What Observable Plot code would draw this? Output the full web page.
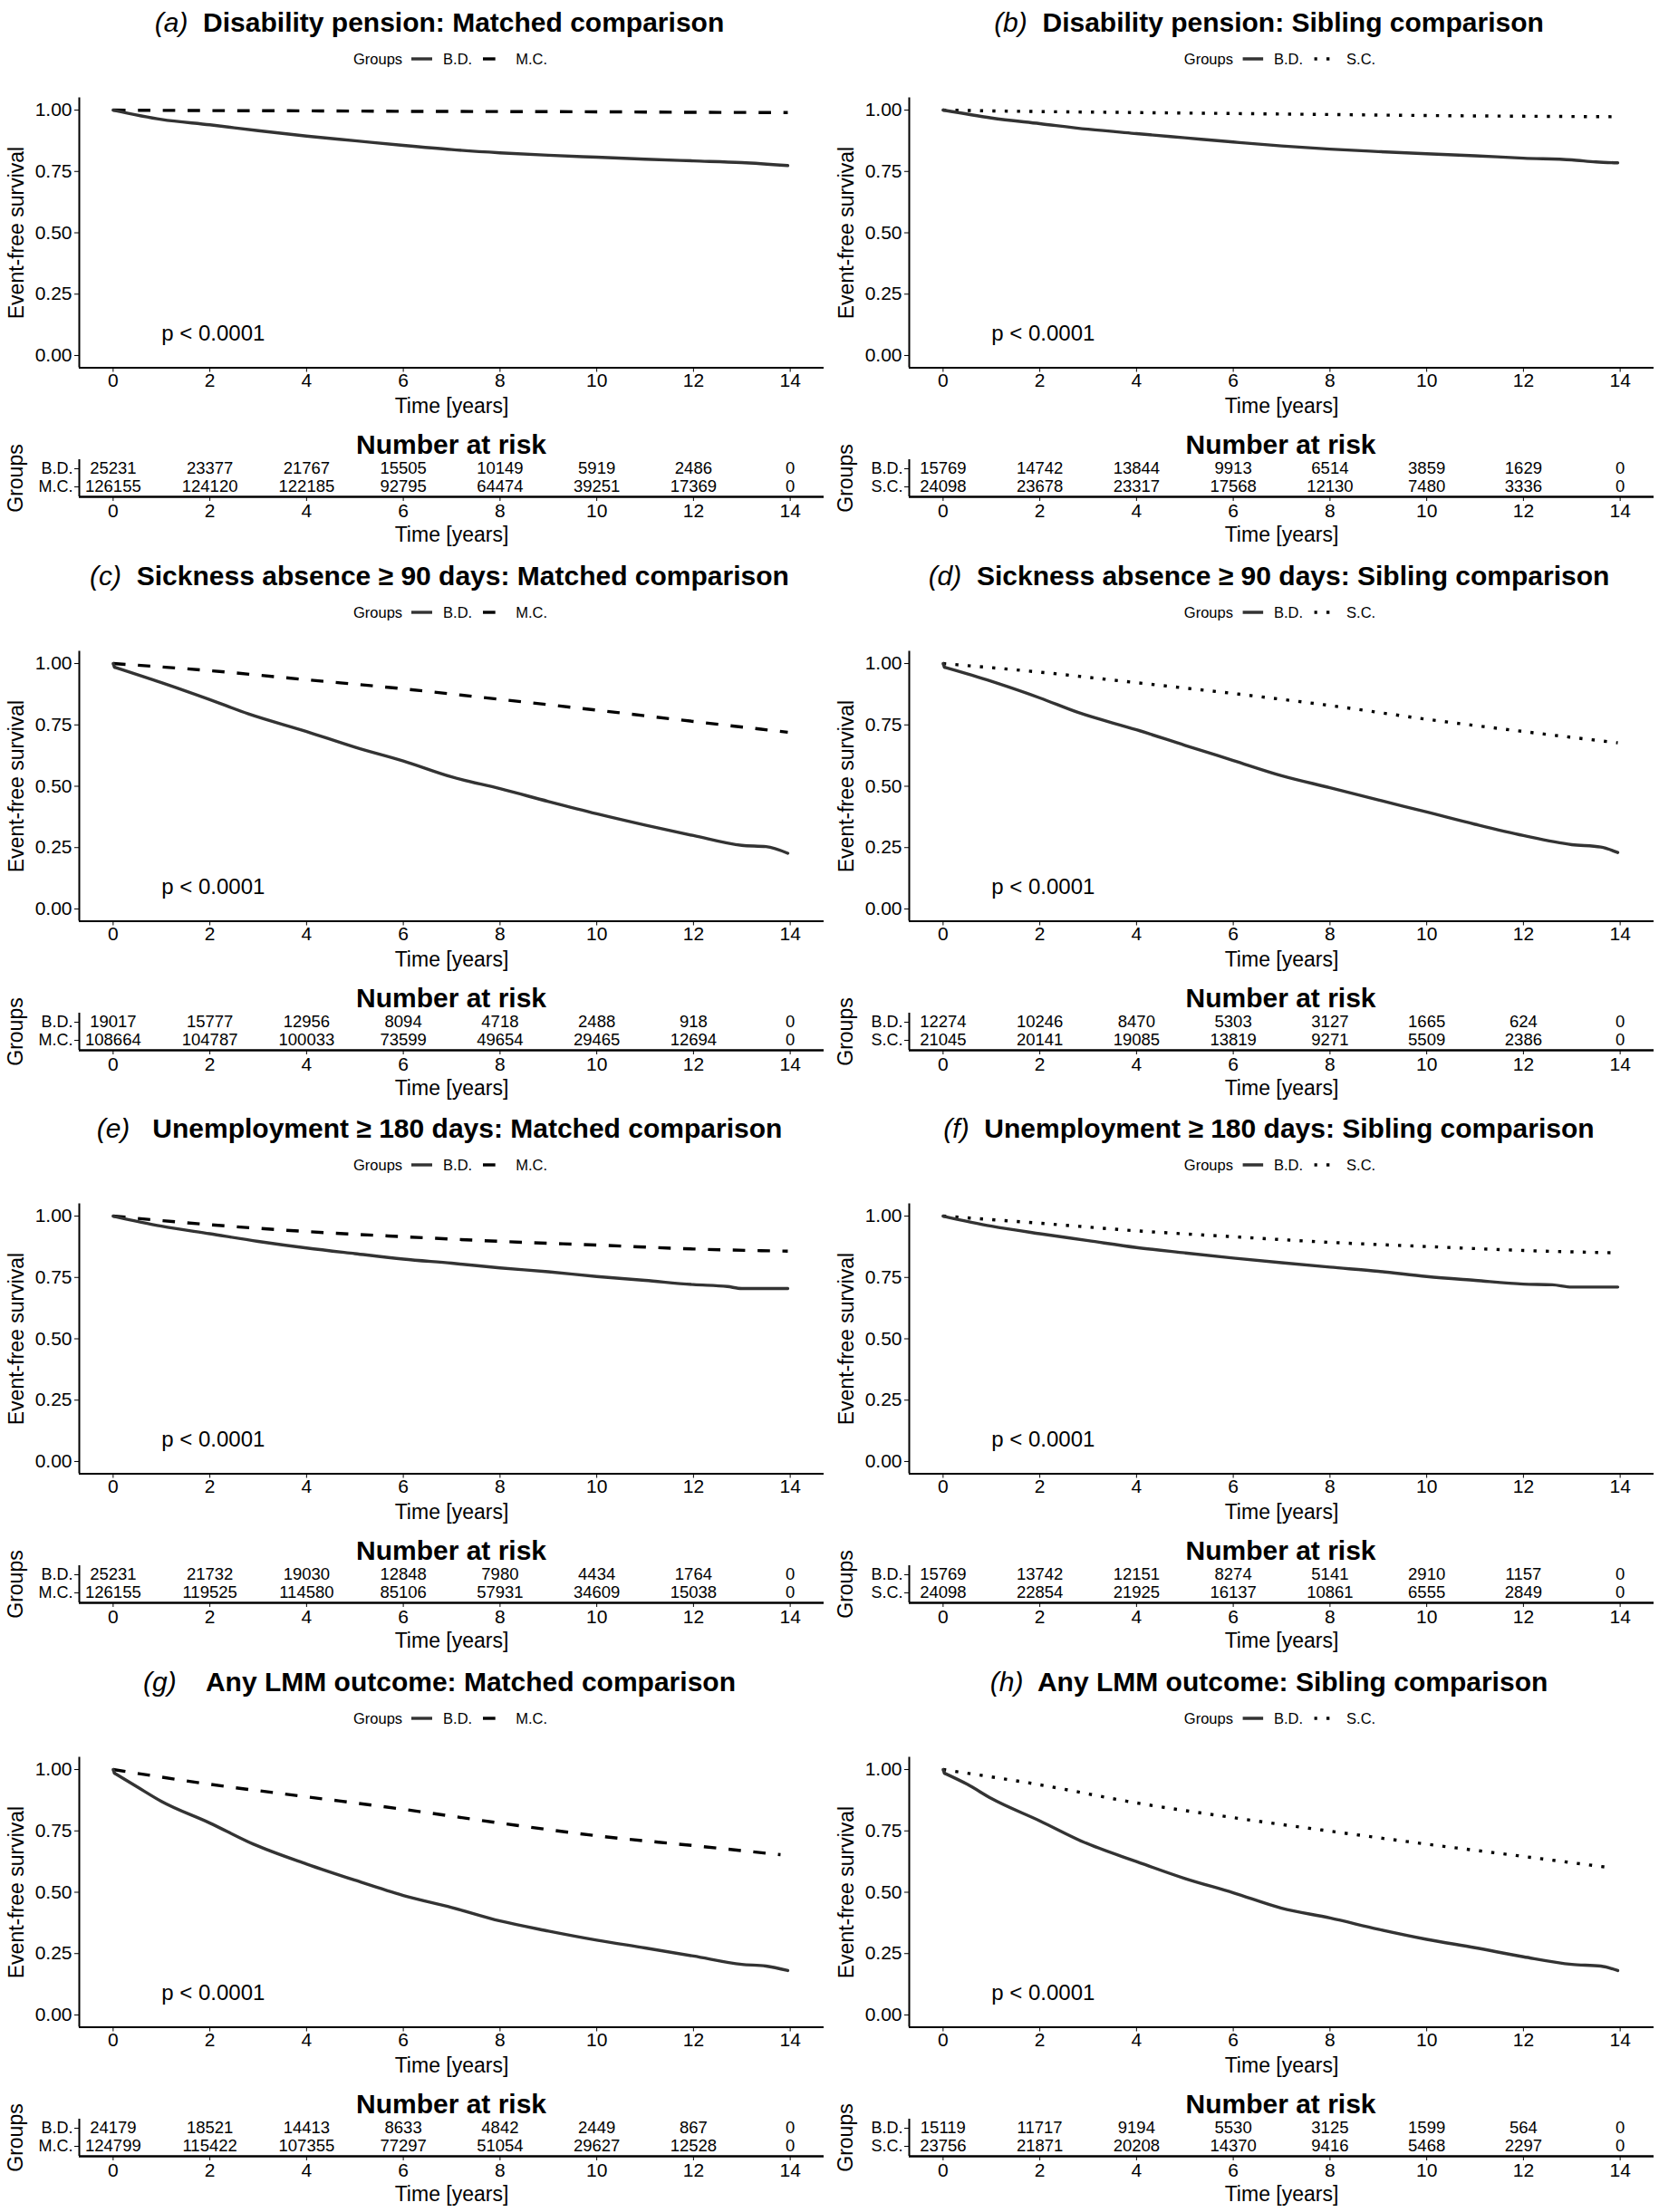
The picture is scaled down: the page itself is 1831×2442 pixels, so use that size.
<!DOCTYPE html>
<html><head><meta charset="utf-8">
<script src="https://cdn.jsdelivr.net/npm/d3@7"></script>
<script src="https://cdn.jsdelivr.net/npm/@observablehq/plot@0.6"></script>
<style>
body{margin:0;background:#fff;font-family:"Liberation Sans",Arial,Helvetica,sans-serif;color:#000;}
#page{position:relative;width:1831px;height:2442px;overflow:hidden;background:#fff;}
.cell{position:absolute;width:915px;height:610px;}
.title{position:absolute;top:7px;left:485px;transform:translateX(-50%);white-space:pre;font-size:30px;font-weight:bold;line-height:36px;}
.title i{font-weight:normal;}
.legend{position:absolute;top:54px;left:497px;transform:translateX(-50%);display:flex;align-items:center;font-size:16.5px;line-height:22px;white-space:nowrap;}
.legend svg{display:block;}
.nar{position:absolute;top:476px;left:498px;transform:translateX(-50%);font-size:30px;font-weight:bold;line-height:30px;white-space:nowrap;}
.main,.risk{position:absolute;left:0;}
.main{top:95px;} .risk{top:501px;}
g[aria-label="x-axis label"], g[aria-label="y-axis label"]{font-size:23px;}
</style></head><body><div id="page"></div>
<script>
// ---------- data ----------
const panelLetters = ["a","b","c","d","e","f","g","h"];
const panelTitles = [
  "Disability pension: Matched comparison",
  "Disability pension: Sibling comparison",
  "Sickness absence \u2265 90 days: Matched comparison",
  "Sickness absence \u2265 90 days: Sibling comparison",
  "Unemployment \u2265 180 days: Matched comparison",
  "Unemployment \u2265 180 days: Sibling comparison",
  "Any LMM outcome: Matched comparison",
  "Any LMM outcome: Sibling comparison"
];
const titleGaps = ["  ","  ","  ","  ","   ","  ","    ","  "];
const groupBD = "B.D.";
const controlNames = ["M.C.","S.C.","M.C.","S.C.","M.C.","S.C.","M.C.","S.C."];
const pvalText = "p < 0.0001";
const xTicks = [0,2,4,6,8,10,12,14];
const yTicks = [0,0.25,0.5,0.75,1];
const riskTimes = [0,2,4,6,8,10,12,14];

// survival curves (time in years, event-free survival)
const aBD_t = [0,1,2,3,4,5,6,7,8,9,10,11,12,13,13.95];
const aBD_s = [1,0.962,0.94,0.916,0.894,0.875,0.856,0.839,0.826,0.816,0.808,0.800,0.793,0.786,0.774];
const aMC_t = [0,2,4,6,8,10,12,13.95];
const aMC_s = [1,0.998,0.997,0.995,0.994,0.993,0.991,0.990];

const bBD_t = [0,1,2,3,4,5,6,7,8,9,10,11,12,13,13.5,13.95];
const bBD_s = [1,0.968,0.945,0.922,0.904,0.887,0.870,0.854,0.841,0.831,0.822,0.814,0.804,0.797,0.789,0.785];
const bSC_t = [0,2,4,6,8,10,12,13.95];
const bSC_s = [1,0.994,0.99,0.986,0.982,0.978,0.975,0.973];

const cBD_t = [0,0.03,1,2,2.8,4,5,6,7,8,9,10,11,12,13,13.5,13.95];
const cBD_s = [1,0.985,0.922,0.853,0.795,0.723,0.659,0.603,0.538,0.49,0.438,0.388,0.342,0.299,0.259,0.254,0.227];
const cMC_t = [0,2,4,6,8,10,12,13.95];
const cMC_s = [1,0.971,0.934,0.897,0.854,0.81,0.764,0.72];

const dBD_t = [0,0.03,1,2,2.8,4,5,6,7,8,9,10,11,12,13,13.6,13.95];
const dBD_s = [1,0.985,0.928,0.86,0.80,0.73,0.667,0.605,0.543,0.494,0.444,0.395,0.345,0.299,0.262,0.252,0.23];
const dSC_t = [0,2,4,6,8,10,12,13.95];
const dSC_s = [1,0.965,0.922,0.878,0.829,0.773,0.723,0.677];

const eBD_t = [0,1,2,3,4,5,6,7,8,9,10,11,12,12.7,13,13.95];
const eBD_s = [1,0.959,0.928,0.897,0.87,0.847,0.825,0.808,0.789,0.773,0.754,0.738,0.721,0.713,0.705,0.705];
const eMC_t = [0,2,4,6,8,10,12,13.95];
const eMC_s = [1,0.965,0.937,0.916,0.897,0.882,0.866,0.857];

const fBD_t = [0,1,2,3,4,5,6,7,8,9,10,11,12,12.6,13,13.95];
const fBD_s = [1,0.959,0.928,0.9,0.872,0.85,0.829,0.81,0.792,0.775,0.754,0.738,0.723,0.72,0.711,0.711];
const fSC_t = [0,2,4,6,8,10,12,13.95];
const fSC_s = [1,0.971,0.94,0.916,0.893,0.876,0.86,0.85];

const gBD_t = [0,0.03,0.5,1,2,2.9,4,5,6,7,8,9,10,11,12,13,13.5,13.95];
const gBD_s = [1,0.985,0.929,0.87,0.782,0.696,0.615,0.549,0.487,0.438,0.383,0.342,0.305,0.273,0.24,0.206,0.199,0.181];
const gMC_t = [0,2,4,6,8,10,12,13.8];
const gMC_s = [1,0.94,0.889,0.838,0.782,0.73,0.69,0.653];

const hBD_t = [0,0.03,0.5,1,2,2.9,4,5,6,7,8,9,10,11,12,13,13.6,13.95];
const hBD_s = [1,0.985,0.94,0.882,0.791,0.705,0.625,0.556,0.498,0.435,0.395,0.349,0.308,0.274,0.237,0.206,0.199,0.181];
const hSC_t = [0,2,4,6,8,10,12,13.8];
const hSC_s = [1,0.938,0.864,0.804,0.749,0.696,0.646,0.60];

// numbers at risk
const aRiskBD = [25231,23377,21767,15505,10149,5919,2486,0];
const aRiskMC = [126155,124120,122185,92795,64474,39251,17369,0];
const bRiskBD = [15769,14742,13844,9913,6514,3859,1629,0];
const bRiskSC = [24098,23678,23317,17568,12130,7480,3336,0];
const cRiskBD = [19017,15777,12956,8094,4718,2488,918,0];
const cRiskMC = [108664,104787,100033,73599,49654,29465,12694,0];
const dRiskBD = [12274,10246,8470,5303,3127,1665,624,0];
const dRiskSC = [21045,20141,19085,13819,9271,5509,2386,0];
const eRiskBD = [25231,21732,19030,12848,7980,4434,1764,0];
const eRiskMC = [126155,119525,114580,85106,57931,34609,15038,0];
const fRiskBD = [15769,13742,12151,8274,5141,2910,1157,0];
const fRiskSC = [24098,22854,21925,16137,10861,6555,2849,0];
const gRiskBD = [24179,18521,14413,8633,4842,2449,867,0];
const gRiskMC = [124799,115422,107355,77297,51054,29627,12528,0];
const hRiskBD = [15119,11717,9194,5530,3125,1599,564,0];
const hRiskSC = [23756,21871,20208,14370,9416,5468,2297,0];

const curves = [
  [aBD_t,aBD_s,aMC_t,aMC_s],[bBD_t,bBD_s,bSC_t,bSC_s],
  [cBD_t,cBD_s,cMC_t,cMC_s],[dBD_t,dBD_s,dSC_t,dSC_s],
  [eBD_t,eBD_s,eMC_t,eMC_s],[fBD_t,fBD_s,fSC_t,fSC_s],
  [gBD_t,gBD_s,gMC_t,gMC_s],[hBD_t,hBD_s,hSC_t,hSC_s]
];
const risks = [
  [aRiskBD,aRiskMC],[bRiskBD,bRiskSC],[cRiskBD,cRiskMC],[dRiskBD,dRiskSC],
  [eRiskBD,eRiskMC],[fRiskBD,fRiskSC],[gRiskBD,gRiskMC],[hRiskBD,hRiskSC]
];

// ---------- style ----------
const FONT = '"Liberation Sans", Arial, Helvetica, sans-serif';
const xDomain = [-0.7, 14.7];
const yDomain = [-0.05, 1.05];
const riskYDomain = [0.45, 2.5];
const LW = 3.4;
const BD_COLOR = "#333333";
const DASH = "13.7,13.7";
const DOT = "3.4,10.2";
const cellW = 915.5, cellH = 610.5;

const page = document.getElementById("page");

function legendKey(dash, color) {
  const ns = "http://www.w3.org/2000/svg";
  const s = document.createElementNS(ns, "svg");
  s.setAttribute("width", 23); s.setAttribute("height", 10);
  const l = document.createElementNS(ns, "line");
  l.setAttribute("x1", 0); l.setAttribute("x2", 23); l.setAttribute("y1", 5); l.setAttribute("y2", 5);
  l.setAttribute("stroke", color); l.setAttribute("stroke-width", LW);
  if (dash) l.setAttribute("stroke-dasharray", dash);
  s.appendChild(l);
  return s;
}

// a survival line: an initial vertical drop (if any) drawn straight, the rest smoothed
function survivalMarks(data, opts) {
  if (data.length > 2 && data[1].t - data[0].t < 0.1) {
    return [
      Plot.line(data.slice(0, 2), {x: "t", y: "s", ...opts}),
      Plot.line(data.slice(1), {x: "t", y: "s", curve: "monotone-x", ...opts})
    ];
  }
  return [Plot.line(data, {x: "t", y: "s", curve: "monotone-x", ...opts})];
}

panelLetters.forEach((letter, i) => {
  const col = i % 2, row = Math.floor(i / 2);
  const cell = document.createElement("div");
  cell.className = "cell";
  cell.style.left = (col * cellW) + "px";
  cell.style.top = (row * cellH) + "px";
  page.appendChild(cell);

  const title = document.createElement("div");
  title.className = "title";
  title.innerHTML = `<i>(${letter})</i>${titleGaps[i]}${panelTitles[i]}`;
  cell.appendChild(title);

  const ctrl = controlNames[i];
  const dash = ctrl === "S.C." ? DOT : DASH;

  // legend
  const lg = document.createElement("div");
  lg.className = "legend";
  const sp = (t, ml) => { const e = document.createElement("span"); e.textContent = t; e.style.marginLeft = ml + "px"; return e; };
  lg.appendChild(sp("Groups", 0));
  const k1 = legendKey(null, BD_COLOR); k1.style.marginLeft = "10px"; lg.appendChild(k1);
  lg.appendChild(sp(groupBD, 12));
  const k2 = legendKey(dash, "#000"); k2.style.marginLeft = "12px"; lg.appendChild(k2);
  lg.appendChild(sp(ctrl, 13));
  cell.appendChild(lg);

  const [bt, bs, ct, cs] = curves[i];
  const bdData = bt.map((t, j) => ({t, s: bs[j]}));
  const ctData = ct.map((t, j) => ({t, s: cs[j]}));

  const main = Plot.plot({
    width: 915, height: 375,
    marginLeft: 87, marginRight: 6, marginTop: 12.5, marginBottom: 64.5,
    style: {fontFamily: FONT, fontSize: "21px", color: "#000", background: "transparent", overflow: "visible"},
    x: {domain: xDomain, ticks: xTicks, tickFormat: d3.format("d"), label: "Time [years]", labelAnchor: "center", labelOffset: 50, labelArrow: "none", tickSize: 5, tickPadding: 1},
    y: {domain: yDomain, ticks: yTicks, tickFormat: d3.format(".2f"), label: "Event-free survival", labelAnchor: "center", labelOffset: 78, labelArrow: "none", tickSize: 5, tickPadding: 3},
    marks: [
      Plot.ruleX([xDomain[0]], {stroke: "#000", strokeWidth: 2}),
      Plot.ruleY([yDomain[0]], {stroke: "#000", strokeWidth: 2}),
      ...survivalMarks(ctData, {stroke: "#000", strokeWidth: LW, strokeDasharray: dash, strokeLinecap: "butt"}),
      ...survivalMarks(bdData, {stroke: BD_COLOR, strokeWidth: LW}),
      Plot.text([pvalText], {x: () => 1, y: () => 0.09, text: d => d, textAnchor: "start", fontSize: 24, fill: "#000"})
    ]
  });
  main.classList.add("main");
  cell.appendChild(main);

  const nar = document.createElement("div");
  nar.className = "nar";
  nar.textContent = "Number at risk";
  cell.appendChild(nar);

  const rowNames = [ctrl, groupBD]; // y=1 -> control, y=2 -> B.D.
  const [rb, rc] = risks[i];
  const riskData = [
    ...riskTimes.map((t, j) => ({t, r: 2, n: rb[j]})),
    ...riskTimes.map((t, j) => ({t, r: 1, n: rc[j]}))
  ];
  const risk = Plot.plot({
    width: 915, height: 100,
    marginLeft: 87, marginRight: 6, marginTop: 6, marginBottom: 53,
    style: {fontFamily: FONT, fontSize: "21px", color: "#000", background: "transparent", overflow: "visible"},
    x: {domain: xDomain},
    y: {domain: riskYDomain},
    marks: [
      Plot.axisX({ticks: xTicks, tickFormat: d3.format("d"), label: "Time [years]", labelAnchor: "center", labelOffset: 49, labelArrow: "none", tickSize: 5, tickPadding: 3}),
      Plot.axisY({ticks: [1, 2], tickFormat: d => rowNames[d - 1], fontSize: 18, label: "Groups", labelAnchor: "center", labelOffset: 79, labelArrow: "none", tickSize: 5, tickPadding: 2}),
      Plot.ruleX([xDomain[0]], {stroke: "#000", strokeWidth: 2}),
      Plot.ruleY([riskYDomain[0]], {stroke: "#000", strokeWidth: 2.6}),
      Plot.text(riskData, {x: "t", y: "r", text: d => String(d.n), fontSize: 18.5, fill: "#000"})
    ]
  });
  risk.classList.add("risk");
  cell.appendChild(risk);
});
</script></body></html>
